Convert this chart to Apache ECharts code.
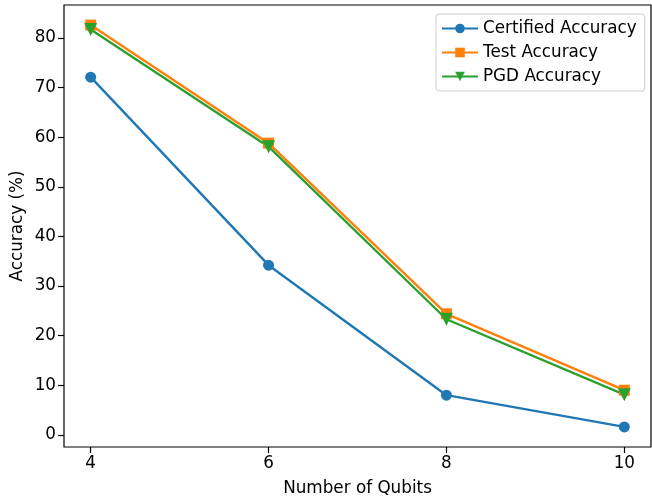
<!DOCTYPE html>
<html>
<head>
<meta charset="utf-8">
<script src="https://cdn.jsdelivr.net/npm/echarts@6/dist/echarts.min.js"></script>
<style>html,body{margin:0;padding:0;background:#fff}#c{width:652px;height:500px}</style>
</head>
<body>
<div id="c"></div>
<script>
const qubits = [4, 6, 8, 10];
const certified = [72.1, 34.2, 8.0, 1.6];
const testAcc = [82.6, 58.8, 24.4, 9.0];
const pgdAcc = [81.7, 58.1, 23.3, 8.1];
const xTicks = [4, 6, 8, 10];
const yTicks = [0, 10, 20, 30, 40, 50, 60, 70, 80];

const font = 'DejaVu Sans';
const fs = 16.8;
const pair = arr => qubits.map((q, i) => [q, arr[i]]);
const chart = echarts.init(document.getElementById('c'), null, {renderer: 'canvas'});
chart.setOption({
  animation: false,
  textStyle: {fontFamily: font},
  grid: {left: 64, right: 1, top: 5, bottom: 53, show: true, borderColor: '#000', borderWidth: 1.2,
         backgroundColor: 'transparent', containLabel: false, outerBoundsMode: 'none'},
  legend: {
    orient: 'vertical', left: 436, top: 14,
    itemWidth: 36, itemHeight: 12, itemGap: 7,
    padding: [6, 8, 6, 5],
    borderColor: '#cccccc', borderWidth: 1, borderRadius: 3,
    textStyle: {fontFamily: font, fontSize: fs, color: '#000', lineHeight: 17},
    data: ['Certified Accuracy', 'Test Accuracy', 'PGD Accuracy']
  },
  xAxis: {
    type: 'value', min: 3.7, max: 10.3,
    name: 'Number of Qubits', nameLocation: 'middle', nameGap: 33, nameMoveOverlap: false,
    nameTextStyle: {fontFamily: font, fontSize: fs, color: '#000'},
    axisLine: {show: false, onZero: false},
    axisTick: {show: true, customValues: xTicks, length: 6, lineStyle: {color: '#000', width: 1.2}},
    axisLabel: {customValues: xTicks, fontFamily: font, fontSize: fs, color: '#000', margin: 8},
    splitLine: {show: false}
  },
  yAxis: {
    type: 'value', min: -2.45, max: 86.65,
    name: 'Accuracy (%)', nameLocation: 'middle', nameGap: 38, nameRotate: 90, nameMoveOverlap: false,
    nameTextStyle: {fontFamily: font, fontSize: fs, color: '#000'},
    axisLine: {show: false, onZero: false},
    axisTick: {show: true, customValues: yTicks, length: 6, lineStyle: {color: '#000', width: 1.2}},
    axisLabel: {customValues: yTicks, fontFamily: font, fontSize: fs, color: '#000', margin: 8},
    splitLine: {show: false}
  },
  series: [
    {name: 'Certified Accuracy', type: 'line', data: pair(certified), symbol: 'circle', symbolSize: 11,
     color: '#1f77b4', lineStyle: {width: 2.4}, itemStyle: {color: '#1f77b4'}},
    {name: 'Test Accuracy', type: 'line', data: pair(testAcc), symbol: 'rect', symbolSize: 11,
     color: '#ff7f0e', lineStyle: {width: 2.4}, itemStyle: {color: '#ff7f0e'}},
    {name: 'PGD Accuracy', type: 'line', data: pair(pgdAcc), symbol: 'triangle', symbolRotate: 180, symbolSize: 13,
     color: '#2ca02c', lineStyle: {width: 2.4}, itemStyle: {color: '#2ca02c'}}
  ]
});
</script>
</body>
</html>
